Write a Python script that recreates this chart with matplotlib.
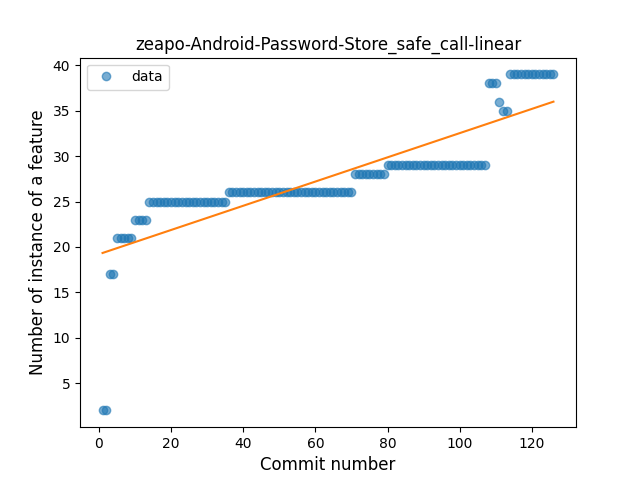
import numpy as np
import matplotlib
matplotlib.use('Agg')
import matplotlib.pyplot as plt

# commit runs: (value, count)
levels = [2, 17, 21, 23, 25, 26, 28, 29, 38, 36, 35, 39]
counts = [2, 2, 5, 4, 22, 35, 9, 28, 3, 1, 2, 13]

y = np.repeat(levels, counts)
x = np.arange(1, len(y) + 1)

coef = np.polyfit(x, y, 1)
fit = np.polyval(coef, x)

plt.figure(figsize=(6.4, 4.8), dpi=100)
plt.plot(x, y, 'o', alpha=0.6, label='data')
plt.plot(x, fit)
plt.title('zeapo-Android-Password-Store_safe_call-linear')
plt.xlabel('Commit number', fontsize=12)
plt.ylabel('Number of instance of a feature', fontsize=12)
plt.legend()
plt.savefig('out.png')
